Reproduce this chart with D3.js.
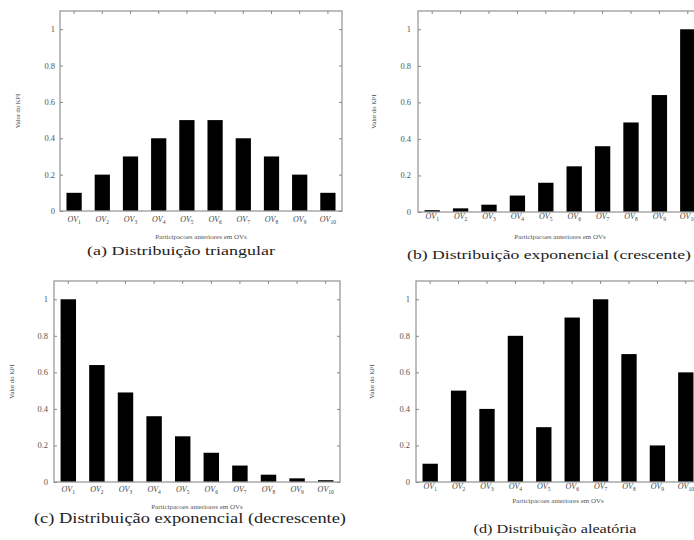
<!DOCTYPE html>
<html><head><meta charset="utf-8">
<script src="https://cdn.jsdelivr.net/npm/d3@7"></script>
<style>html,body{margin:0;padding:0;background:#fff;overflow:hidden}</style>
</head><body>
<svg id="chart" width="694" height="540"></svg>
<script>
const categories = ["1","2","3","4","5","6","7","8","9","10"];
const triangular = [0.1,0.2,0.3,0.4,0.5,0.5,0.4,0.3,0.2,0.1];
const expCrescente = [0.01,0.02,0.04,0.09,0.16,0.25,0.36,0.49,0.64,1.0];
const expDecrescente = [1.0,0.64,0.49,0.36,0.25,0.16,0.09,0.04,0.02,0.01];
const aleatoria = [0.1,0.5,0.4,0.8,0.3,0.9,1.0,0.7,0.2,0.6];
const yTicks = [0,0.2,0.4,0.6,0.8,1];
const yTickLabels = ["0","0.2","0.4","0.6","0.8","1"];
const xPrefix = "OV";
const yTitle = "Valor do KPI";
const xTitle = "Participacoes anteriores em OVs";
const captions = [
  "(a) Distribuição triangular",
  "(b) Distribuição exponencial (crescente)",
  "(c) Distribuição exponencial (decrescente)",
  "(d) Distribuição aleatória"
];

const svg = d3.select("#chart");

const panels = [
  {values: triangular, caption: captions[0], left:60, right:342, top:11, bottom:211,
   xlabY:222, xtitleY:239, ylabX:20, ytickX:55, capX:181, capY:255, capW:188, capSize:13.5},
  {values: expCrescente, caption: captions[1], left:418, right:702, top:11, bottom:212,
   xlabY:219, xtitleY:239, ylabX:376, ytickX:411, capX:549, capY:259, capW:284, capSize:13.5},
  {values: expDecrescente, caption: captions[2], left:54, right:340, top:281, bottom:482,
   xlabY:492, xtitleY:509, ylabX:14, ytickX:48, capX:190, capY:523, capW:312, capSize:14},
  {values: aleatoria, caption: captions[3], left:416, right:700, top:281, bottom:482,
   xlabY:489, xtitleY:503, ylabX:374, ytickX:410, capX:555, capY:533, capW:163, capSize:13}
];

panels.forEach(p => {
  const g = svg.append("g");
  const x = d3.scaleBand().domain(categories).range([p.left, p.right])
    .paddingInner(0.46).paddingOuter(0.23);
  const y = d3.scaleLinear().domain([0, 1.1]).range([p.bottom, p.top]);

  // bars
  g.selectAll("rect.bar").data(p.values).join("rect")
    .attr("class","bar")
    .attr("x", (d,i) => x(categories[i]))
    .attr("width", x.bandwidth())
    .attr("y", d => y(d))
    .attr("height", d => y(0) - y(d))
    .attr("fill", "#000");

  // frame
  g.append("rect").attr("x", p.left).attr("y", p.top)
    .attr("width", p.right - p.left).attr("height", p.bottom - p.top)
    .attr("fill","none").attr("stroke","#9a9a9a").attr("stroke-width",1.3);

  // y ticks (inward) on both sides
  const yAxis = d3.axisRight(y).tickValues(yTicks).tickSize(3).tickFormat("");
  g.append("g").attr("transform",`translate(${p.left},0)`).call(yAxis)
    .call(s => { s.select(".domain").remove(); s.selectAll("line").attr("stroke","#888"); });
  const yAxisR = d3.axisLeft(y).tickValues(yTicks).tickSize(3).tickFormat("");
  g.append("g").attr("transform",`translate(${p.right},0)`).call(yAxisR)
    .call(s => { s.select(".domain").remove(); s.selectAll("line").attr("stroke","#888"); });
  g.selectAll("text.ytl").data(yTicks).join("text")
    .attr("class","ytl")
    .attr("x", p.ytickX).attr("y", d => y(d) + 3)
    .attr("text-anchor","end")
    .attr("font-family","Liberation Serif").attr("font-size",8.5)
    .attr("fill","#555")
    .text((d,i) => yTickLabels[i]);

  // top ticks (inward)
  const xTop = d3.axisBottom(x).tickSize(3).tickFormat("");
  g.append("g").attr("transform",`translate(0,${p.top})`).call(xTop)
    .call(s => { s.select(".domain").remove(); s.selectAll("line").attr("stroke","#888"); });

  // x tick labels OV_n
  const xl = g.selectAll("text.xtl").data(categories).join("text")
    .attr("class","xtl")
    .attr("x", d => x(d) + x.bandwidth()/2)
    .attr("y", p.xlabY)
    .attr("text-anchor","middle")
    .attr("font-family","Liberation Serif").attr("font-size",8)
    .attr("fill","#444");
  xl.append("tspan").attr("font-style","italic").text(xPrefix);
  xl.append("tspan").attr("font-size",5.5).attr("dy",2).text(d => d);

  // x title
  g.append("text").attr("x", (p.left + p.right)/2).attr("y", p.xtitleY)
    .attr("text-anchor","middle").attr("font-family","Liberation Serif")
    .attr("font-size",7).attr("fill","#555").text(xTitle);

  // y title
  g.append("text")
    .attr("transform",`translate(${p.ylabX},${(p.top+p.bottom)/2}) rotate(-90)`)
    .attr("text-anchor","middle").attr("font-family","Liberation Serif")
    .attr("font-size",6.5).attr("fill","#444").text(yTitle);

  // caption
  g.append("text").attr("x", p.capX).attr("y", p.capY)
    .attr("text-anchor","middle").attr("font-family","Liberation Serif")
    .attr("font-size", p.capSize).attr("fill","#222")
    .attr("textLength", p.capW).attr("lengthAdjust","spacingAndGlyphs")
    .text(p.caption);
});
</script>
</body></html>
